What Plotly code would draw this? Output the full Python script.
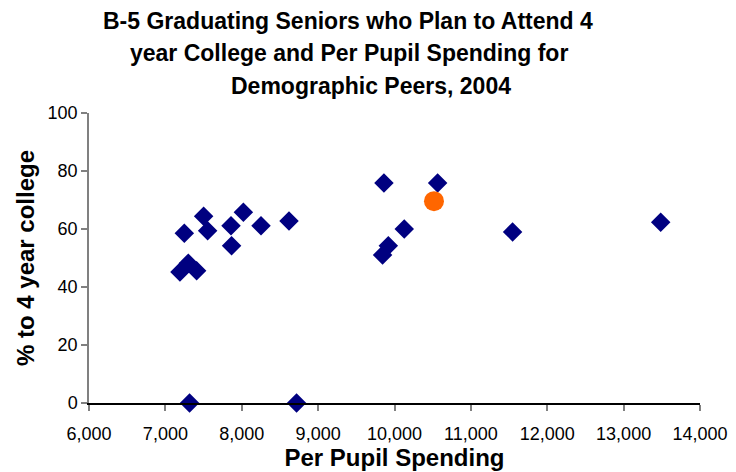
import plotly.graph_objects as go

# Peer districts
spending = [7191, 7300, 7409, 7248, 7501, 7553, 7859, 7867, 8021, 8252, 8619,
            7317, 8718, 9862, 10565, 10128, 9919, 9844, 11546, 13485]
pct_college = [45.2, 48.2, 45.6, 58.5, 64.4, 59.4, 61.1, 54.2, 65.8, 61.1, 62.8,
               0, 0, 75.9, 75.9, 60.0, 54.2, 51.0, 59.0, 62.3]

# Highlighted district
hl_spending = [10517]
hl_pct = [69.6]

x_ticks = [6000, 7000, 8000, 9000, 10000, 11000, 12000, 13000, 14000]
y_ticks = [0, 20, 40, 60, 80, 100]

title_lines = ["B-5 Graduating Seniors who Plan to Attend 4",
               "year College and Per Pupil Spending for",
               "Demographic Peers, 2004"]

# page body has an 8px default margin; lay out in figure coordinates
OFF = 8
W, H = 736 - OFF, 472 - OFF
L, R, T, B = 89 - OFF, 36, 113 - OFF, 69

fig = go.Figure()
fig.add_trace(go.Scatter(
    x=spending, y=pct_college, mode="markers",
    marker=dict(symbol="diamond", size=15, color="#000080",
                line=dict(width=0)),
    showlegend=False, cliponaxis=False))
fig.add_trace(go.Scatter(
    x=hl_spending, y=hl_pct, mode="markers",
    marker=dict(symbol="circle", size=20, color="#FF6600",
                line=dict(width=0)),
    showlegend=False, cliponaxis=False))

font = "Liberation Sans, Arial, sans-serif"

# title lines placed individually (screen pixel centers -> paper coords)
pw, ph = W - L - R, H - T - B
line_centers = [(348, 21), (349, 53), (371, 86)]
for txt, (cx, cy) in zip(title_lines, line_centers):
    fig.add_annotation(
        text="<b>" + txt + "</b>", showarrow=False,
        xref="paper", yref="paper",
        x=(cx - OFF - L) / pw, y=(H - B - (cy - OFF)) / ph,
        xanchor="center", yanchor="middle",
        font=dict(family=font, size=23, color="black"))

fig.update_layout(
    width=W, height=H,
    margin=dict(l=L, r=R, t=T, b=B),
    paper_bgcolor="white", plot_bgcolor="white",
    font=dict(family=font, color="black", size=18),
    xaxis=dict(
        range=[6000, 14000], tickvals=x_ticks, tickformat=",d",
        showgrid=False, zeroline=False, automargin=False,
        showline=True, linecolor="black", linewidth=1.5,
        ticks="outside", ticklen=6, tickcolor="gray", tickwidth=1.5,
        ticklabelstandoff=8,
        tickfont=dict(size=18, family=font),
        title=dict(text="<b>Per Pupil Spending</b>", standoff=2,
                   font=dict(size=24, family=font))),
    yaxis=dict(
        range=[0, 100], tickvals=y_ticks,
        showgrid=False, zeroline=False, automargin=False,
        showline=True, linecolor="gray", linewidth=1.5,
        ticks="outside", ticklen=6, tickcolor="gray", tickwidth=1.5,
        tickfont=dict(size=18, family=font),
        title=dict(text="<b>% to 4 year college</b>", standoff=6,
                   font=dict(size=24, family=font))),
)

fig.write_html("out.html")
